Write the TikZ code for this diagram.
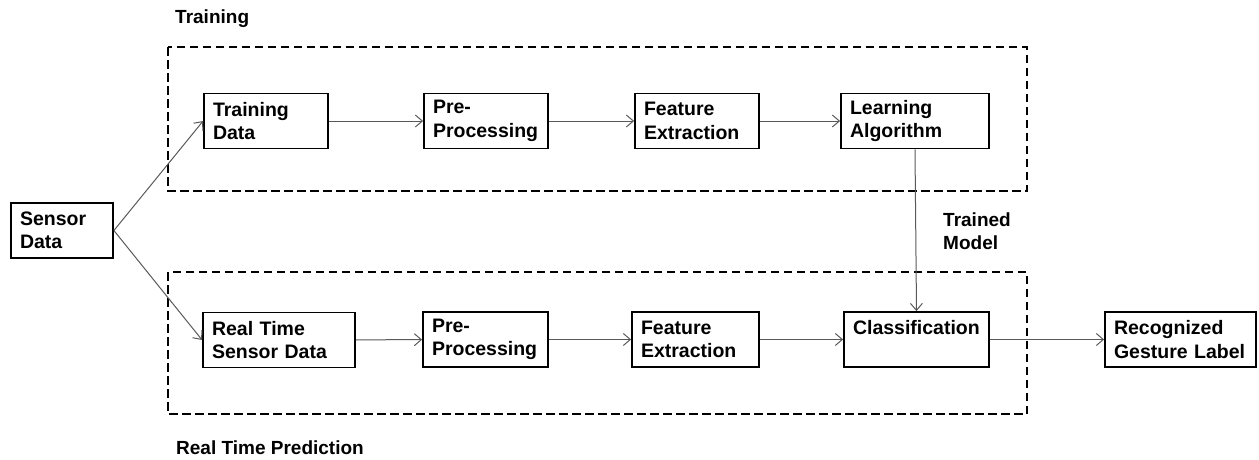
\documentclass[tikz,border=0pt]{standalone}
\usepackage{fontspec}
\setmainfont{Liberation Sans}
\usetikzlibrary{arrows.meta}

\tikzset{
  blk/.style={draw, line width=1.8pt, fill=white, align=left,
    inner xsep=9pt, inner ysep=0pt, minimum height=55pt,
    font=\fontsize{19.5}{23.5}\selectfont\bfseries},
  lbl/.style={inner sep=0pt, align=left,
    font=\fontsize{19}{23}\selectfont\bfseries},
  flow/.style={draw=black!65, line width=1pt,
    -{Straight Barb[length=7pt,width=12pt]}},
  group/.style={line width=2pt, dash pattern=on 8.5pt off 4.5pt}
}

\begin{document}
\begin{tikzpicture}[x=1pt, y=-1pt]
  \useasboundingbox (0,0) rectangle (1259,459);
  % Gruppenrahmen
  \draw[group] (168,47) rectangle (1027,191);
  \draw[group] (168,272) rectangle (1027,414);
  \node (ttrain) at (175,19) [lbl, anchor=west] {Training};
  \node (tpred) at (176,448) [lbl, anchor=west] {Real Time Prediction};
  % Eingang
  \node (sensor) at (62,230.5) [blk, text width=84pt] {Sensor\\Data};
  % Trainingszweig
  \node (trdata) at (266,121) [blk, text width=106pt] {Training\\Data};
  \node (pre1) at (486,121) [blk, text width=106pt] {Pre-\\Processing};
  \node (feat1) at (697,121) [blk, text width=106pt] {Feature\\Extraction};
  \node (learn) at (915,121) [blk, text width=130pt] {Learning\\Algorithm};
  % Vorhersagezweig
  \node (rtdata) at (279,340) [blk, text width=134pt] {Real Time\\Sensor Data};
  \node (pre2) at (485.5,339.5) [blk, text width=107pt] {Pre-\\Processing};
  \node (feat2) at (695.5,339.5) [blk, text width=109pt] {Feature\\Extraction};
  \node (classif) at (916.5,339.5) [blk, text width=127pt] {Classification\\~};
  \node (recog) at (1180.5,339.5) [blk, text width=133pt] {Recognized\\Gesture Label};
  \node (model) at (943,213) [lbl, anchor=north west] {Trained\\Model};
  % Pfeile
  \draw[flow] (sensor.east) -- (trdata.west);
  \draw[flow] (sensor.east) -- (rtdata.west);
  \draw[flow] (trdata) -- (pre1);
  \draw[flow] (pre1) -- (feat1);
  \draw[flow] (feat1) -- (learn);
  \draw[flow] (rtdata) -- (pre2);
  \draw[flow] (pre2) -- (feat2);
  \draw[flow] (feat2) -- (classif);
  \draw[flow] (learn.south) -- (classif.north);
  \draw[flow] (classif) -- (recog);
\end{tikzpicture}
\end{document}
